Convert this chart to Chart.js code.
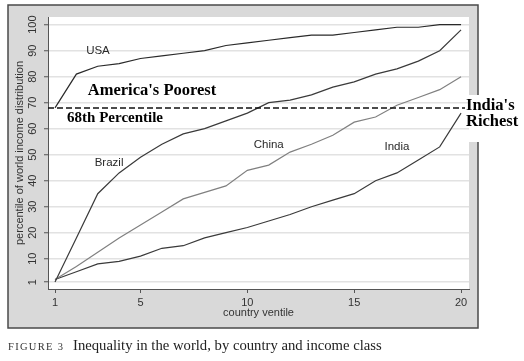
<!DOCTYPE html>
<html><head><meta charset="utf-8">
<script src="https://cdn.jsdelivr.net/npm/chart.js@4/dist/chart.umd.min.js"></script>
<style>html,body{margin:0;padding:0;background:#fff;}#wrap{position:relative;width:524px;height:361px;}</style>
</head><body><div id="wrap"><canvas id="c" width="524" height="361"></canvas></div>
<script>
// ---- data ----
const ventiles = [1,2,3,4,5,6,7,8,9,10,11,12,13,14,15,16,17,18,19,20];
const usa    = [68,81,84,85,87,88,89,90,92,93,94,95,96,96,97,98,99,99,100,100];
const brazil = [1,18,35,43,49,54,58,60,63,66,70,71,73,76,78,81,83,86,90,98];
const china  = [2,7,12.5,18,23,28,33,35.5,38,44,46,51,54,57.5,62.5,64.5,69,72,75,80];
const india  = [2,5,8,9,11,14,15,18,20,22,24.5,27,30,32.5,35,40,43,48,53,66];
const xTicks = [1,5,10,15,20];
const yTicks = [1,10,20,30,40,50,60,70,80,90,100];
const threshold = 68;
const seriesNames = ['USA','Brazil','China','India'];
const seriesLabelPos = [[3.01,89.9],[3.53,47],[11.0,53.7],[17.0,53.2]];

const sans = "'Liberation Sans', Arial, sans-serif";
const serif = "'Liberation Serif', 'Times New Roman', serif";

function pts(arr){ return ventiles.map((v,i)=>({x:v,y:arr[i]})); }
function ds(label, arr, color){
  return {label, data: pts(arr), borderColor: color, borderWidth: 1.2, pointRadius: 0, tension: 0, fill: false};
}

const bgPlugin = {
  id: 'bg',
  beforeDraw(chart){
    const {ctx, chartArea: a} = chart;
    ctx.save();
    ctx.fillStyle = '#fff';
    ctx.fillRect(0,0,chart.width,chart.height);
    ctx.fillStyle = '#d9d9d9';
    ctx.fillRect(8,5,470,323);
    ctx.strokeStyle = '#4a4a4a';
    ctx.lineWidth = 1.5;
    ctx.strokeRect(8,5,470,323);
    ctx.fillStyle = '#fff';
    ctx.fillRect(a.left, a.top, a.right-a.left, a.bottom-a.top);
    // white box behind "India's Richest"
    ctx.fillRect(a.right, 95, chart.width-a.right, 47);
    ctx.restore();
  }
};

const annoPlugin = {
  id: 'anno',
  afterDraw(chart){
    const {ctx, chartArea: a} = chart;
    const xs = chart.scales.x, ys = chart.scales.y;
    ctx.save();
    // y tick labels, rotated
    ctx.fillStyle = '#333';
    ctx.font = '11px ' + sans;
    ctx.textAlign = 'center';
    ctx.textBaseline = 'middle';
    yTicks.forEach(v=>{
      const py = ys.getPixelForValue(v);
      ctx.save();
      ctx.translate(33, py);
      ctx.rotate(-Math.PI/2);
      ctx.fillText(String(v), 0, 0);
      ctx.restore();
    });
    // series labels
    ctx.font = '11.5px ' + sans;
    ctx.fillStyle = '#2a2a2a';
    seriesNames.forEach((n,i)=>{
      const p = seriesLabelPos[i];
      ctx.fillText(n, xs.getPixelForValue(p[0]), ys.getPixelForValue(p[1]));
    });
    // threshold dashed line
    const ty = ys.getPixelForValue(threshold);
    ctx.strokeStyle = '#111';
    ctx.lineWidth = 1.5;
    ctx.setLineDash([6,3]);
    ctx.beginPath();
    ctx.moveTo(a.left, ty);
    ctx.lineTo(a.right - 4, ty);
    ctx.stroke();
    ctx.setLineDash([]);
    // annotation texts
    ctx.fillStyle = '#000';
    ctx.font = 'bold 16.5px ' + serif;
    ctx.textAlign = 'center';
    ctx.fillText("America's Poorest", xs.getPixelForValue(5.54), ys.getPixelForValue(74.5));
    ctx.font = 'bold 15px ' + serif;
    ctx.fillText('68th Percentile', xs.getPixelForValue(3.81), ys.getPixelForValue(64.1));
    ctx.font = 'bold 16.5px ' + serif;
    ctx.textAlign = 'left';
    ctx.textBaseline = 'alphabetic';
    ctx.fillText("India's", a.right - 3, 110);
    ctx.fillText('Richest', a.right - 3, 125.5);
    // caption
    ctx.fillStyle = '#333';
    ctx.font = '10.5px ' + serif;
    ctx.letterSpacing = '1.3px';
    ctx.fillText('FIGURE 3', 8, 350);
    ctx.letterSpacing = '0px';
    ctx.fillStyle = '#222';
    ctx.font = '14.7px ' + serif;
    ctx.fillText('Inequality in the world, by country and income class', 73, 350);
    ctx.restore();
  }
};

new Chart(document.getElementById('c'), {
  type: 'line',
  data: { datasets: [
    ds('USA', usa, '#2a2a2a'),
    ds('Brazil', brazil, '#3a3a3a'),
    ds('China', china, '#808080'),
    ds('India', india, '#3a3a3a')
  ]},
  options: {
    responsive: false,
    animation: false,
    devicePixelRatio: 1,
    layout: { padding: { left: 0, top: 17, right: 55, bottom: 32 } },
    plugins: { legend: { display: false }, tooltip: { enabled: false } },
    scales: {
      x: {
        type: 'linear', min: 0.672, max: 20.372,
        afterBuildTicks: s => { s.ticks = xTicks.map(v => ({ value: v })); },
        afterFit: s => { s.height = 40; },
        grid: { drawOnChartArea: false, drawTicks: true, tickLength: 4, color: '#555' },
        border: { color: '#555', width: 1 },
        ticks: { color: '#333', font: { family: sans, size: 11 }, padding: 3, maxRotation: 0, autoSkip: false },
        title: { display: true, text: 'country ventile', color: '#333', font: { family: sans, size: 11 }, padding: { top: 0, bottom: 9 } }
      },
      y: {
        type: 'linear', min: -1.65, max: 102.95,
        afterBuildTicks: s => { s.ticks = yTicks.map(v => ({ value: v })); },
        afterFit: s => { s.width = 48; },
        grid: { drawOnChartArea: true, color: '#e2e2e2', lineWidth: 1.5, drawTicks: true, tickLength: 4, tickColor: '#555', tickWidth: 1 },
        border: { color: '#555', width: 1 },
        ticks: { display: false },
        title: { display: true, text: 'percentile of world income distribution', color: '#333', font: { family: sans, size: 11 }, padding: { top: 13, bottom: 0 } }
      }
    }
  },
  plugins: [bgPlugin, annoPlugin]
});
</script>
</body></html>
